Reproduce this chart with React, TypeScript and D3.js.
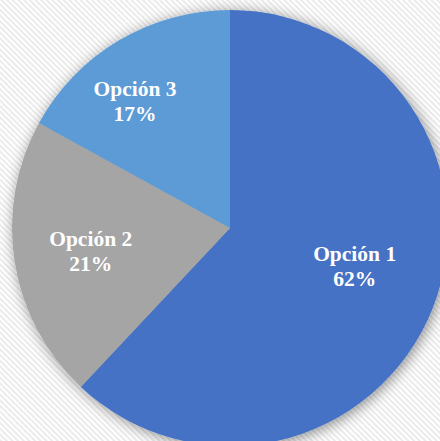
import React from "react";
import * as d3 from "d3";

const categories = ["Opción 1", "Opción 2", "Opción 3"];
const values = [62, 21, 17];
const colors = ["#4472C4", "#A5A5A5", "#5B9BD5"];

const W = 440;
const H = 441;
const cx = 230;
const cy = 228;
const R = 218;

// label placement tweaks (radius fraction and pixel nudges)
const labelRadius = [0.615, 0.647, 0.72];
const labelNudge: [number, number][] = [
  [0, -12],
  [0, 0],
  [-15, 7],
];

export default function App() {
  const pie = d3.pie<number>().sort(null).value((d) => d);
  const arcs = pie(values);
  const arcGen = d3.arc<d3.PieArcDatum<number>>().innerRadius(0).outerRadius(R);
  const total = d3.sum(values);
  return (
    <svg
      width={W}
      height={H}
      style={{ position: "absolute", left: 0, top: 0 }}
    >
      <defs>
        <pattern
          id="stripes"
          width="4"
          height="4"
          patternUnits="userSpaceOnUse"
          patternTransform="rotate(-45)"
        >
          <rect width="4" height="4" fill="#ffffff" />
          <rect width="2" height="4" fill="#ebebeb" />
        </pattern>
        <filter id="shadow" x="-20%" y="-20%" width="140%" height="140%">
          <feGaussianBlur in="SourceAlpha" stdDeviation="7" />
          <feOffset dx="2" dy="2" result="b" />
          <feComponentTransfer>
            <feFuncA type="linear" slope="0.45" />
          </feComponentTransfer>
          <feMerge>
            <feMergeNode />
            <feMergeNode in="SourceGraphic" />
          </feMerge>
        </filter>
      </defs>
      <rect width={W} height={H} fill="url(#stripes)" />
      <g transform={`translate(${cx},${cy})`} filter="url(#shadow)">
        {arcs.map((a, i) => (
          <path key={i} d={arcGen(a) || ""} fill={colors[i]} />
        ))}
      </g>
      <g transform={`translate(${cx},${cy})`}>
        {arcs.map((a, i) => {
          const r = R * labelRadius[i];
          const [x0, y0] = d3
            .arc<d3.PieArcDatum<number>>()
            .innerRadius(r)
            .outerRadius(r)
            .centroid(a);
          const x = x0 + labelNudge[i][0];
          const y = y0 + labelNudge[i][1];
          return (
            <text
              key={i}
              fill="#ffffff"
              fontFamily="'Liberation Serif', 'Times New Roman', serif"
              fontWeight="bold"
              fontSize={21.5}
              textAnchor="middle"
            >
              <tspan x={x} y={y - 4}>{categories[i]}</tspan>
              <tspan x={x} y={y + 21}>
                {Math.round((values[i] / total) * 100)}%
              </tspan>
            </text>
          );
        })}
      </g>
    </svg>
  );
}
